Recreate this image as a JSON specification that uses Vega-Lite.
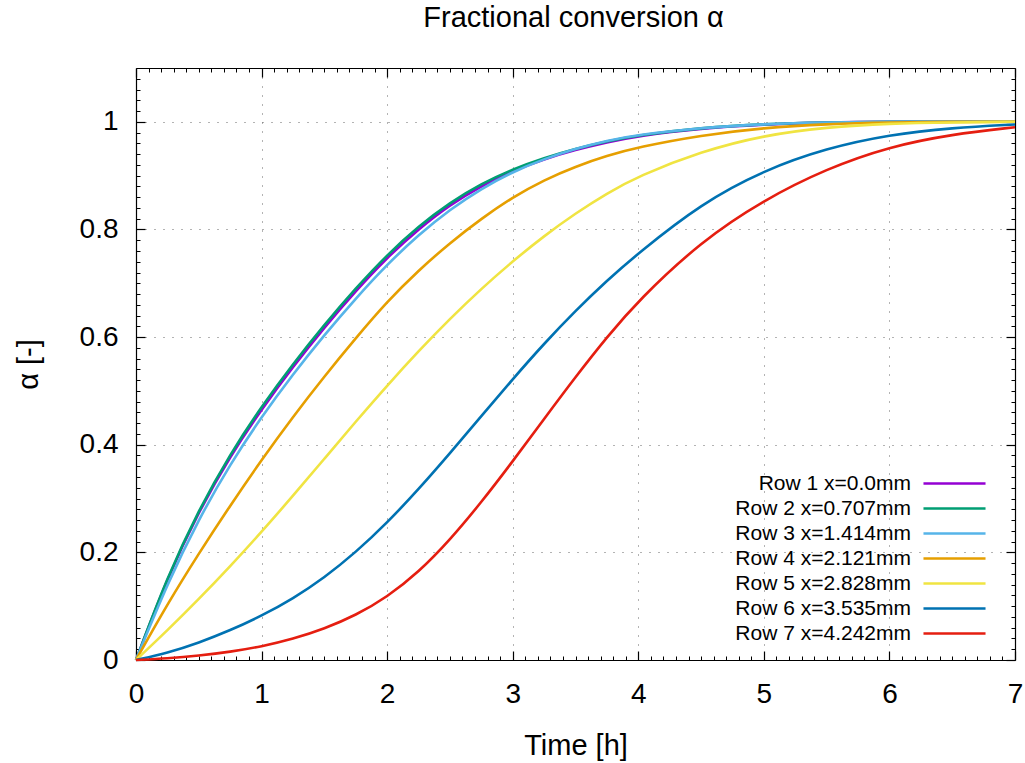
{
  "$schema": "https://vega.github.io/schema/vega-lite/v6.json",
  "width": 879,
  "height": 592,
  "autosize": {"type": "none"},
  "padding": {"left": 136, "top": 68, "right": 10, "bottom": 103},
  "background": "#ffffff",
  "config": {"view": {"stroke": null}},
  "title": {"text": "Fractional conversion α", "fontSize": 29, "font": "Liberation Sans", "fontWeight": "normal", "color": "#000000", "anchor": "middle", "baseline": "alphabetic", "offset": 11, "dx": -2},
  "data": {"values": [
    {"series":"Row 1 x=0.0mm","t":0,"alpha":0},{"series":"Row 1 x=0.0mm","t":0.25,"alpha":0.153},{"series":"Row 1 x=0.0mm","t":0.5,"alpha":0.276},{"series":"Row 1 x=0.0mm","t":0.75,"alpha":0.379},{"series":"Row 1 x=0.0mm","t":1,"alpha":0.466},{"series":"Row 1 x=0.0mm","t":1.25,"alpha":0.545},{"series":"Row 1 x=0.0mm","t":1.5,"alpha":0.618},{"series":"Row 1 x=0.0mm","t":1.75,"alpha":0.686},{"series":"Row 1 x=0.0mm","t":2,"alpha":0.748},{"series":"Row 1 x=0.0mm","t":2.25,"alpha":0.801},{"series":"Row 1 x=0.0mm","t":2.5,"alpha":0.846},{"series":"Row 1 x=0.0mm","t":2.75,"alpha":0.881},{"series":"Row 1 x=0.0mm","t":3,"alpha":0.909},{"series":"Row 1 x=0.0mm","t":3.25,"alpha":0.931},{"series":"Row 1 x=0.0mm","t":3.5,"alpha":0.948},{"series":"Row 1 x=0.0mm","t":3.75,"alpha":0.962},{"series":"Row 1 x=0.0mm","t":4,"alpha":0.974},{"series":"Row 1 x=0.0mm","t":4.5,"alpha":0.988},{"series":"Row 1 x=0.0mm","t":5,"alpha":0.995},{"series":"Row 1 x=0.0mm","t":5.5,"alpha":0.999},{"series":"Row 1 x=0.0mm","t":6,"alpha":1},{"series":"Row 1 x=0.0mm","t":6.5,"alpha":1},{"series":"Row 1 x=0.0mm","t":7,"alpha":1},
    {"series":"Row 2 x=0.707mm","t":0,"alpha":0},{"series":"Row 2 x=0.707mm","t":0.25,"alpha":0.155},{"series":"Row 2 x=0.707mm","t":0.5,"alpha":0.279},{"series":"Row 2 x=0.707mm","t":0.75,"alpha":0.383},{"series":"Row 2 x=0.707mm","t":1,"alpha":0.471},{"series":"Row 2 x=0.707mm","t":1.25,"alpha":0.55},{"series":"Row 2 x=0.707mm","t":1.5,"alpha":0.623},{"series":"Row 2 x=0.707mm","t":1.75,"alpha":0.691},{"series":"Row 2 x=0.707mm","t":2,"alpha":0.753},{"series":"Row 2 x=0.707mm","t":2.25,"alpha":0.806},{"series":"Row 2 x=0.707mm","t":2.5,"alpha":0.85},{"series":"Row 2 x=0.707mm","t":2.75,"alpha":0.885},{"series":"Row 2 x=0.707mm","t":3,"alpha":0.912},{"series":"Row 2 x=0.707mm","t":3.25,"alpha":0.933},{"series":"Row 2 x=0.707mm","t":3.5,"alpha":0.95},{"series":"Row 2 x=0.707mm","t":3.75,"alpha":0.964},{"series":"Row 2 x=0.707mm","t":4,"alpha":0.975},{"series":"Row 2 x=0.707mm","t":4.5,"alpha":0.989},{"series":"Row 2 x=0.707mm","t":5,"alpha":0.996},{"series":"Row 2 x=0.707mm","t":5.5,"alpha":0.999},{"series":"Row 2 x=0.707mm","t":6,"alpha":1},{"series":"Row 2 x=0.707mm","t":6.5,"alpha":1},{"series":"Row 2 x=0.707mm","t":7,"alpha":1},
    {"series":"Row 3 x=1.414mm","t":0,"alpha":0},{"series":"Row 3 x=1.414mm","t":0.25,"alpha":0.142},{"series":"Row 3 x=1.414mm","t":0.5,"alpha":0.262},{"series":"Row 3 x=1.414mm","t":0.75,"alpha":0.364},{"series":"Row 3 x=1.414mm","t":1,"alpha":0.452},{"series":"Row 3 x=1.414mm","t":1.25,"alpha":0.531},{"series":"Row 3 x=1.414mm","t":1.5,"alpha":0.604},{"series":"Row 3 x=1.414mm","t":1.75,"alpha":0.672},{"series":"Row 3 x=1.414mm","t":2,"alpha":0.735},{"series":"Row 3 x=1.414mm","t":2.25,"alpha":0.79},{"series":"Row 3 x=1.414mm","t":2.5,"alpha":0.837},{"series":"Row 3 x=1.414mm","t":2.75,"alpha":0.876},{"series":"Row 3 x=1.414mm","t":3,"alpha":0.907},{"series":"Row 3 x=1.414mm","t":3.25,"alpha":0.931},{"series":"Row 3 x=1.414mm","t":3.5,"alpha":0.95},{"series":"Row 3 x=1.414mm","t":3.75,"alpha":0.965},{"series":"Row 3 x=1.414mm","t":4,"alpha":0.976},{"series":"Row 3 x=1.414mm","t":4.5,"alpha":0.989},{"series":"Row 3 x=1.414mm","t":5,"alpha":0.996},{"series":"Row 3 x=1.414mm","t":5.5,"alpha":0.999},{"series":"Row 3 x=1.414mm","t":6,"alpha":1},{"series":"Row 3 x=1.414mm","t":6.5,"alpha":1},{"series":"Row 3 x=1.414mm","t":7,"alpha":1},
    {"series":"Row 4 x=2.121mm","t":0,"alpha":0},{"series":"Row 4 x=2.121mm","t":0.25,"alpha":0.104},{"series":"Row 4 x=2.121mm","t":0.5,"alpha":0.198},{"series":"Row 4 x=2.121mm","t":0.75,"alpha":0.287},{"series":"Row 4 x=2.121mm","t":1,"alpha":0.372},{"series":"Row 4 x=2.121mm","t":1.25,"alpha":0.452},{"series":"Row 4 x=2.121mm","t":1.5,"alpha":0.527},{"series":"Row 4 x=2.121mm","t":1.75,"alpha":0.598},{"series":"Row 4 x=2.121mm","t":2,"alpha":0.666},{"series":"Row 4 x=2.121mm","t":2.25,"alpha":0.724},{"series":"Row 4 x=2.121mm","t":2.5,"alpha":0.775},{"series":"Row 4 x=2.121mm","t":2.75,"alpha":0.82},{"series":"Row 4 x=2.121mm","t":3,"alpha":0.86},{"series":"Row 4 x=2.121mm","t":3.25,"alpha":0.892},{"series":"Row 4 x=2.121mm","t":3.5,"alpha":0.917},{"series":"Row 4 x=2.121mm","t":3.75,"alpha":0.937},{"series":"Row 4 x=2.121mm","t":4,"alpha":0.953},{"series":"Row 4 x=2.121mm","t":4.5,"alpha":0.975},{"series":"Row 4 x=2.121mm","t":5,"alpha":0.989},{"series":"Row 4 x=2.121mm","t":5.5,"alpha":0.996},{"series":"Row 4 x=2.121mm","t":6,"alpha":0.999},{"series":"Row 4 x=2.121mm","t":6.5,"alpha":1},{"series":"Row 4 x=2.121mm","t":7,"alpha":1},
    {"series":"Row 5 x=2.828mm","t":0,"alpha":0},{"series":"Row 5 x=2.828mm","t":0.25,"alpha":0.055},{"series":"Row 5 x=2.828mm","t":0.5,"alpha":0.113},{"series":"Row 5 x=2.828mm","t":0.75,"alpha":0.174},{"series":"Row 5 x=2.828mm","t":1,"alpha":0.238},{"series":"Row 5 x=2.828mm","t":1.25,"alpha":0.305},{"series":"Row 5 x=2.828mm","t":1.5,"alpha":0.374},{"series":"Row 5 x=2.828mm","t":1.75,"alpha":0.443},{"series":"Row 5 x=2.828mm","t":2,"alpha":0.51},{"series":"Row 5 x=2.828mm","t":2.25,"alpha":0.574},{"series":"Row 5 x=2.828mm","t":2.5,"alpha":0.634},{"series":"Row 5 x=2.828mm","t":2.75,"alpha":0.69},{"series":"Row 5 x=2.828mm","t":3,"alpha":0.741},{"series":"Row 5 x=2.828mm","t":3.25,"alpha":0.788},{"series":"Row 5 x=2.828mm","t":3.5,"alpha":0.83},{"series":"Row 5 x=2.828mm","t":3.75,"alpha":0.867},{"series":"Row 5 x=2.828mm","t":4,"alpha":0.899},{"series":"Row 5 x=2.828mm","t":4.5,"alpha":0.945},{"series":"Row 5 x=2.828mm","t":5,"alpha":0.975},{"series":"Row 5 x=2.828mm","t":5.5,"alpha":0.99},{"series":"Row 5 x=2.828mm","t":6,"alpha":0.997},{"series":"Row 5 x=2.828mm","t":6.5,"alpha":0.999},{"series":"Row 5 x=2.828mm","t":7,"alpha":1},
    {"series":"Row 6 x=3.535mm","t":0,"alpha":0},{"series":"Row 6 x=3.535mm","t":0.25,"alpha":0.013},{"series":"Row 6 x=3.535mm","t":0.5,"alpha":0.032},{"series":"Row 6 x=3.535mm","t":0.75,"alpha":0.055},{"series":"Row 6 x=3.535mm","t":1,"alpha":0.082},{"series":"Row 6 x=3.535mm","t":1.25,"alpha":0.114},{"series":"Row 6 x=3.535mm","t":1.5,"alpha":0.153},{"series":"Row 6 x=3.535mm","t":1.75,"alpha":0.2},{"series":"Row 6 x=3.535mm","t":2,"alpha":0.255},{"series":"Row 6 x=3.535mm","t":2.25,"alpha":0.317},{"series":"Row 6 x=3.535mm","t":2.5,"alpha":0.384},{"series":"Row 6 x=3.535mm","t":2.75,"alpha":0.453},{"series":"Row 6 x=3.535mm","t":3,"alpha":0.522},{"series":"Row 6 x=3.535mm","t":3.25,"alpha":0.588},{"series":"Row 6 x=3.535mm","t":3.5,"alpha":0.649},{"series":"Row 6 x=3.535mm","t":3.75,"alpha":0.705},{"series":"Row 6 x=3.535mm","t":4,"alpha":0.756},{"series":"Row 6 x=3.535mm","t":4.5,"alpha":0.848},{"series":"Row 6 x=3.535mm","t":5,"alpha":0.91},{"series":"Row 6 x=3.535mm","t":5.5,"alpha":0.951},{"series":"Row 6 x=3.535mm","t":6,"alpha":0.976},{"series":"Row 6 x=3.535mm","t":6.5,"alpha":0.989},{"series":"Row 6 x=3.535mm","t":7,"alpha":0.995},
    {"series":"Row 7 x=4.242mm","t":0,"alpha":0},{"series":"Row 7 x=4.242mm","t":0.25,"alpha":0.003},{"series":"Row 7 x=4.242mm","t":0.5,"alpha":0.008},{"series":"Row 7 x=4.242mm","t":0.75,"alpha":0.015},{"series":"Row 7 x=4.242mm","t":1,"alpha":0.025},{"series":"Row 7 x=4.242mm","t":1.25,"alpha":0.039},{"series":"Row 7 x=4.242mm","t":1.5,"alpha":0.058},{"series":"Row 7 x=4.242mm","t":1.75,"alpha":0.083},{"series":"Row 7 x=4.242mm","t":2,"alpha":0.117},{"series":"Row 7 x=4.242mm","t":2.25,"alpha":0.163},{"series":"Row 7 x=4.242mm","t":2.5,"alpha":0.223},{"series":"Row 7 x=4.242mm","t":2.75,"alpha":0.293},{"series":"Row 7 x=4.242mm","t":3,"alpha":0.369},{"series":"Row 7 x=4.242mm","t":3.25,"alpha":0.448},{"series":"Row 7 x=4.242mm","t":3.5,"alpha":0.526},{"series":"Row 7 x=4.242mm","t":3.75,"alpha":0.6},{"series":"Row 7 x=4.242mm","t":4,"alpha":0.668},{"series":"Row 7 x=4.242mm","t":4.5,"alpha":0.778},{"series":"Row 7 x=4.242mm","t":5,"alpha":0.855},{"series":"Row 7 x=4.242mm","t":5.5,"alpha":0.913},{"series":"Row 7 x=4.242mm","t":6,"alpha":0.954},{"series":"Row 7 x=4.242mm","t":6.5,"alpha":0.977},{"series":"Row 7 x=4.242mm","t":7,"alpha":0.99}
  ]},
  "layer": [
    {
      "mark": {"type": "line", "interpolate": "basis", "strokeWidth": 2.6},
      "encoding": {
        "x": {"field": "t", "type": "quantitative", "scale": {"domain": [0, 7], "nice": false, "zero": false},
          "axis": {"orient": "bottom", "values": [0,1,2,3,4,5,6,7], "format": "d", "title": "Time [h]",
            "tickSize": -9, "tickColor": "#000000", "tickWidth": 1.2, "domainColor": "#000000", "domainWidth": 1.2,
            "labelFont": "Liberation Sans", "labelFontSize": 28, "labelColor": "#000000", "labelPadding": 29, "labelFlush": false,
            "grid": true, "gridDash": [1, 8], "gridColor": "#666666", "gridWidth": 1,
            "titleFont": "Liberation Sans", "titleFontSize": 29, "titleFontWeight": "normal", "titleColor": "#000000",
            "titleY": 94, "titleBaseline": "alphabetic"}},
        "y": {"field": "alpha", "type": "quantitative", "scale": {"domain": [0, 1.1], "nice": false, "zero": false},
          "axis": {"orient": "left", "values": [0,0.2,0.4,0.6,0.8,1], "format": "~g", "title": "α [-]",
            "tickSize": -9, "tickColor": "#000000", "tickWidth": 1.2, "domainColor": "#000000", "domainWidth": 1.2,
            "labelFont": "Liberation Sans", "labelFontSize": 28, "labelColor": "#000000", "labelPadding": 27, "labelFlush": false,
            "grid": true, "gridDash": [1, 8], "gridColor": "#666666", "gridWidth": 1,
            "titleFont": "Liberation Sans", "titleFontSize": 29, "titleFontWeight": "normal", "titleColor": "#000000",
            "titleX": -99, "titleY": 296, "titleBaseline": "alphabetic", "titleAlign": "center", "titleAngle": -90}},
        "color": {"field": "series", "type": "nominal",
          "scale": {"domain": ["Row 1 x=0.0mm","Row 2 x=0.707mm","Row 3 x=1.414mm","Row 4 x=2.121mm","Row 5 x=2.828mm","Row 6 x=3.535mm","Row 7 x=4.242mm"],
                    "range": ["#9400d3","#009e73","#56b4e9","#e69f00","#f0e442","#0072b2","#e51e10"]},
          "legend": {"orient": "none", "legendX": 808, "legendY": 405, "title": null,
            "symbolType": "M-5,0H5", "symbolSize": 154, "symbolStrokeWidth": 2.6,
            "labelFont": "Liberation Sans", "labelFontSize": 21, "labelColor": "#000000", "labelAlign": "right",
            "labelOffset": -54, "labelLimit": 400, "rowPadding": 3, "padding": 0}}
      }
    },
    {
      "mark": {"type": "point", "opacity": 0},
      "encoding": {
        "x": {"field": "t", "type": "quantitative", "scale": {"domain": [0, 7], "nice": false, "zero": false},
          "axis": {"orient": "top", "values": [0,1,2,3,4,5,6,7], "labels": false, "title": null, "grid": false,
            "tickSize": -9, "tickColor": "#000000", "tickWidth": 1.2, "domainColor": "#000000", "domainWidth": 1.2}},
        "y": {"field": "alpha", "type": "quantitative", "scale": {"domain": [0, 1.1], "nice": false, "zero": false},
          "axis": {"orient": "right", "values": [0,0.2,0.4,0.6,0.8,1], "labels": false, "title": null, "grid": false,
            "tickSize": -9, "tickColor": "#000000", "tickWidth": 1.2, "domainColor": "#000000", "domainWidth": 1.2}}
      }
    },
    {
      "mark": {"type": "point", "opacity": 0},
      "encoding": {
        "x": {"field": "t", "type": "quantitative", "scale": {"domain": [0, 7], "nice": false, "zero": false},
          "axis": {"orient": "bottom", "values": [0.1,0.2,0.3,0.4,0.5,0.6,0.7,0.8,0.9,1.1,1.2,1.3,1.4,1.5,1.6,1.7,1.8,1.9,2.1,2.2,2.3,2.4,2.5,2.6,2.7,2.8,2.9,3.1,3.2,3.3,3.4,3.5,3.6,3.7,3.8,3.9,4.1,4.2,4.3,4.4,4.5,4.6,4.7,4.8,4.9,5.1,5.2,5.3,5.4,5.5,5.6,5.7,5.8,5.9,6.1,6.2,6.3,6.4,6.5,6.6,6.7,6.8,6.9],
            "labels": false, "title": null, "grid": false, "domain": false,
            "tickSize": -4, "tickColor": "#000000", "tickWidth": 1}},
        "y": {"field": "alpha", "type": "quantitative", "scale": {"domain": [0, 1.1], "nice": false, "zero": false},
          "axis": {"orient": "left", "values": [0.02,0.04,0.06,0.08,0.1,0.12,0.14,0.16,0.18,0.22,0.24,0.26,0.28,0.3,0.32,0.34,0.36,0.38,0.42,0.44,0.46,0.48,0.5,0.52,0.54,0.56,0.58,0.62,0.64,0.66,0.68,0.7,0.72,0.74,0.76,0.78,0.82,0.84,0.86,0.88,0.9,0.92,0.94,0.96,0.98,1.02,1.04,1.06,1.08],
            "labels": false, "title": null, "grid": false, "domain": false,
            "tickSize": -4, "tickColor": "#000000", "tickWidth": 1}}
      }
    },
    {
      "mark": {"type": "point", "opacity": 0},
      "encoding": {
        "x": {"field": "t", "type": "quantitative", "scale": {"domain": [0, 7], "nice": false, "zero": false},
          "axis": {"orient": "top", "values": [0.1,0.2,0.3,0.4,0.5,0.6,0.7,0.8,0.9,1.1,1.2,1.3,1.4,1.5,1.6,1.7,1.8,1.9,2.1,2.2,2.3,2.4,2.5,2.6,2.7,2.8,2.9,3.1,3.2,3.3,3.4,3.5,3.6,3.7,3.8,3.9,4.1,4.2,4.3,4.4,4.5,4.6,4.7,4.8,4.9,5.1,5.2,5.3,5.4,5.5,5.6,5.7,5.8,5.9,6.1,6.2,6.3,6.4,6.5,6.6,6.7,6.8,6.9],
            "labels": false, "title": null, "grid": false, "domain": false,
            "tickSize": -4, "tickColor": "#000000", "tickWidth": 1}},
        "y": {"field": "alpha", "type": "quantitative", "scale": {"domain": [0, 1.1], "nice": false, "zero": false},
          "axis": {"orient": "right", "values": [0.02,0.04,0.06,0.08,0.1,0.12,0.14,0.16,0.18,0.22,0.24,0.26,0.28,0.3,0.32,0.34,0.36,0.38,0.42,0.44,0.46,0.48,0.5,0.52,0.54,0.56,0.58,0.62,0.64,0.66,0.68,0.7,0.72,0.74,0.76,0.78,0.82,0.84,0.86,0.88,0.9,0.92,0.94,0.96,0.98,1.02,1.04,1.06,1.08],
            "labels": false, "title": null, "grid": false, "domain": false,
            "tickSize": -4, "tickColor": "#000000", "tickWidth": 1}}
      }
    }
  ],
  "resolve": {"axis": {"x": "independent", "y": "independent"}}
}
